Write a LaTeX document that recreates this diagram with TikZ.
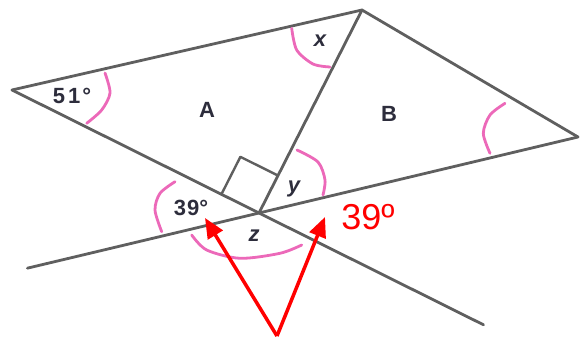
\documentclass[tikz,border=0pt]{standalone}
\usepackage{fontspec}
\setmainfont{Liberation Sans}
\usetikzlibrary{calc,arrows.meta}
\definecolor{linegray}{RGB}{95,95,95}
\definecolor{arcpink}{RGB}{236,105,185}
\definecolor{labeldark}{RGB}{45,45,60}
\tikzset{
  edge/.style={draw=linegray,line width=2.8pt,line cap=round,line join=round},
  anglearc/.style={draw=arcpink,line width=2.8pt,line cap=round},
  lbl/.style={text=labeldark,font=\bfseries\fontsize{22}{22}\selectfont,inner sep=0pt},
  redarrow/.style={draw=red,line width=3.5pt,-{Triangle[length=20pt,width=17pt]}},
}
\begin{document}
\begin{tikzpicture}[x=1pt,y=-1pt]
\useasboundingbox (0,0) rectangle (584,342);
% main points
\coordinate (L) at (12,90);
\coordinate (T) at (362,10);
\coordinate (R) at (578,137);
\coordinate (C) at (259,213);
\coordinate (E1) at ($(L)!1.909!(C)$);
\coordinate (E2) at ($(R)!1.726!(C)$);
% lines
\draw[edge] (L) -- (T) -- (R);
\draw[edge] (T) -- (C);
\draw[edge] (L) -- (E1);
\draw[edge] (R) -- (E2);
% right angle square
\coordinate (S1) at ($(C)!42pt!(L)$);
\coordinate (S2) at ($(C)!42pt!(T)$);
\coordinate (S3) at ($(S1)+(S2)-(C)$);
\draw[edge,line width=2.4pt] (S1) -- (S3) -- (S2);
% angle arcs
\draw[anglearc] plot[smooth] coordinates {(105,73) (110,93) (101.7,110) (86.7,123.3)};
\draw[anglearc] plot[smooth] coordinates {(291.7,28.3) (296.7,50) (313,64) (330,67)};
\draw[anglearc] plot[smooth] coordinates {(505,103.3) (490,115) (483.3,133.3) (490,153.3)};
\draw[anglearc] plot[smooth] coordinates {(297,150) (318,162) (325,180) (323,195)};
\draw[anglearc] plot[smooth] coordinates {(175,181.7) (160,193.3) (155,210) (161.7,231.7)};
\draw[anglearc] plot[smooth] coordinates {(191.7,235) (206.7,250) (240,258.3) (280,253.3) (301.7,245)};
% labels
\node[lbl] (a51) at (72,96) {5\kern3pt1\kern2pt°};
\node[lbl] (ax) at (320,41) {\itshape x};
\node[lbl] (aA) at (207,110) {A};
\node[lbl] (aB) at (389,114) {B};
\node[lbl] (ay) at (294,189) {\itshape y};
\node[lbl] (a39) at (191,208) {3\kern1pt9°};
\node[lbl] (az) at (254,236) {\itshape z};
\node[text=red,font=\fontsize{36}{36}\selectfont,inner sep=0pt] (r39) at (368,217) {39º};
% red arrows
\coordinate (P) at (277,336);
\coordinate (TipA) at (205,218);
\coordinate (TipB) at (325,217);
\draw[redarrow] (P) -- (TipA);
\draw[redarrow] (P) -- (TipB);
\end{tikzpicture}
\end{document}
